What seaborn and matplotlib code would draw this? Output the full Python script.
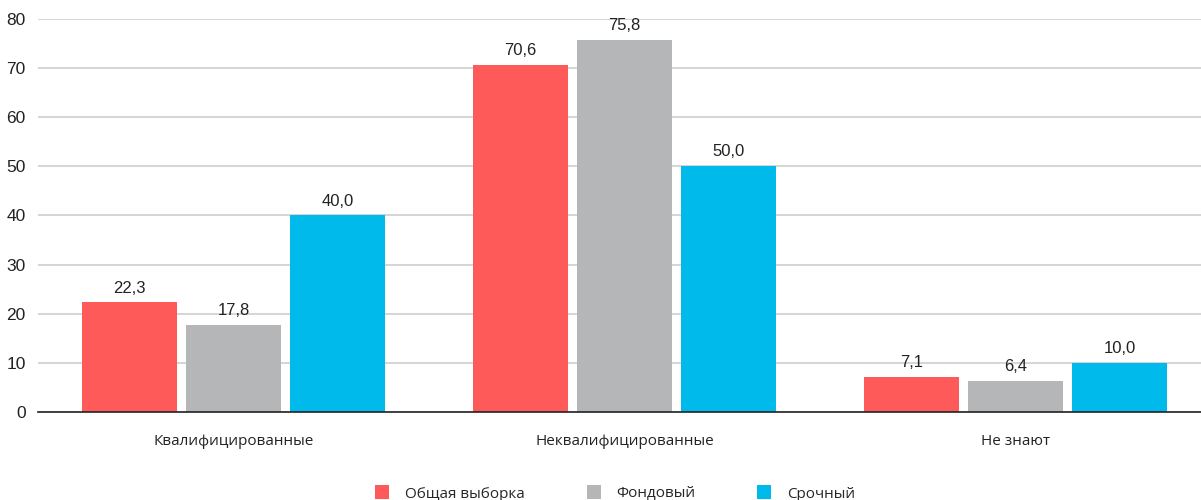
import matplotlib
matplotlib.use("Agg")
import matplotlib.pyplot as plt
from matplotlib.lines import Line2D
import seaborn as sns
import pandas as pd

categories = ["Квалифицированные", "Неквалифицированные", "Не знают"]
series_names = ["Общая выборка", "Фондовый", "Срочный"]
general = [22.3, 70.6, 7.1]
stock = [17.8, 75.8, 6.4]
futures = [40.0, 50.0, 10.0]
y_ticks = [0, 10, 20, 30, 40, 50, 60, 70, 80]
colors = ["#FF5A5A", "#B5B6B8", "#00BAEB"]

rows = []
for name, vals in zip(series_names, [general, stock, futures]):
    for cat, v in zip(categories, vals):
        rows.append({"cat": cat, "series": name, "value": v})
df = pd.DataFrame(rows)

sns.set_theme(style="white")
plt.rcParams["font.family"] = ["Liberation Sans", "DejaVu Sans"]

fig = plt.figure(figsize=(12.01, 5.0), dpi=100)
ax = fig.add_axes([38 / 1201, 1 - 412 / 500, 1173 / 1201, 393 / 500])

sns.barplot(data=df, x="cat", y="value", hue="series", order=categories,
            hue_order=series_names, palette=colors, width=0.8, gap=0.09,
            saturation=1, legend=False, linewidth=0, edgecolor="none", ax=ax)

ax.set_xlim(-0.5, 2.5)
ax.set_ylim(0, 80)
ax.set_yticks(y_ticks)
ax.set_yticklabels([str(t) for t in y_ticks], fontsize=12.5, color="#222222")
ax.yaxis.grid(True, color="#D2D2D2", linewidth=1.3)
ax.set_axisbelow(True)
ax.tick_params(axis="y", length=0, pad=9)

ax.set_xlabel("")
ax.set_ylabel("")
ax.set_xticks(range(len(categories)))
ax.set_xticklabels(categories, fontsize=11, family=["Open Sans", "DejaVu Sans"],
                   color="#222222")
ax.tick_params(axis="x", which="major", length=0, pad=16)
ax.set_xticks([-0.5, 0.5, 1.5], minor=True)
ax.tick_params(axis="x", which="minor", direction="in", length=5,
               width=1, color="#222222")

for s in ["top", "right", "left"]:
    ax.spines[s].set_visible(False)
ax.spines["bottom"].set_color("#222222")
ax.spines["bottom"].set_linewidth(1.2)

for container, vals in zip(ax.containers, [general, stock, futures]):
    ax.bar_label(container, labels=[f"{v:.1f}".replace(".", ",") for v in vals],
                 padding=5, fontsize=12, color="#222222")

handles = [Line2D([], [], marker="s", linestyle="none", markersize=10,
                  markerfacecolor=c, markeredgewidth=0) for c in colors]
fig.legend(handles, series_names, loc="center", bbox_to_anchor=(0.512, 0.012),
           ncol=3, frameon=False, handlelength=1.0, handletextpad=1.0,
           columnspacing=4.0, prop={"family": ["Open Sans", "DejaVu Sans"], "size": 11})

fig.savefig("out.png", dpi=100)
